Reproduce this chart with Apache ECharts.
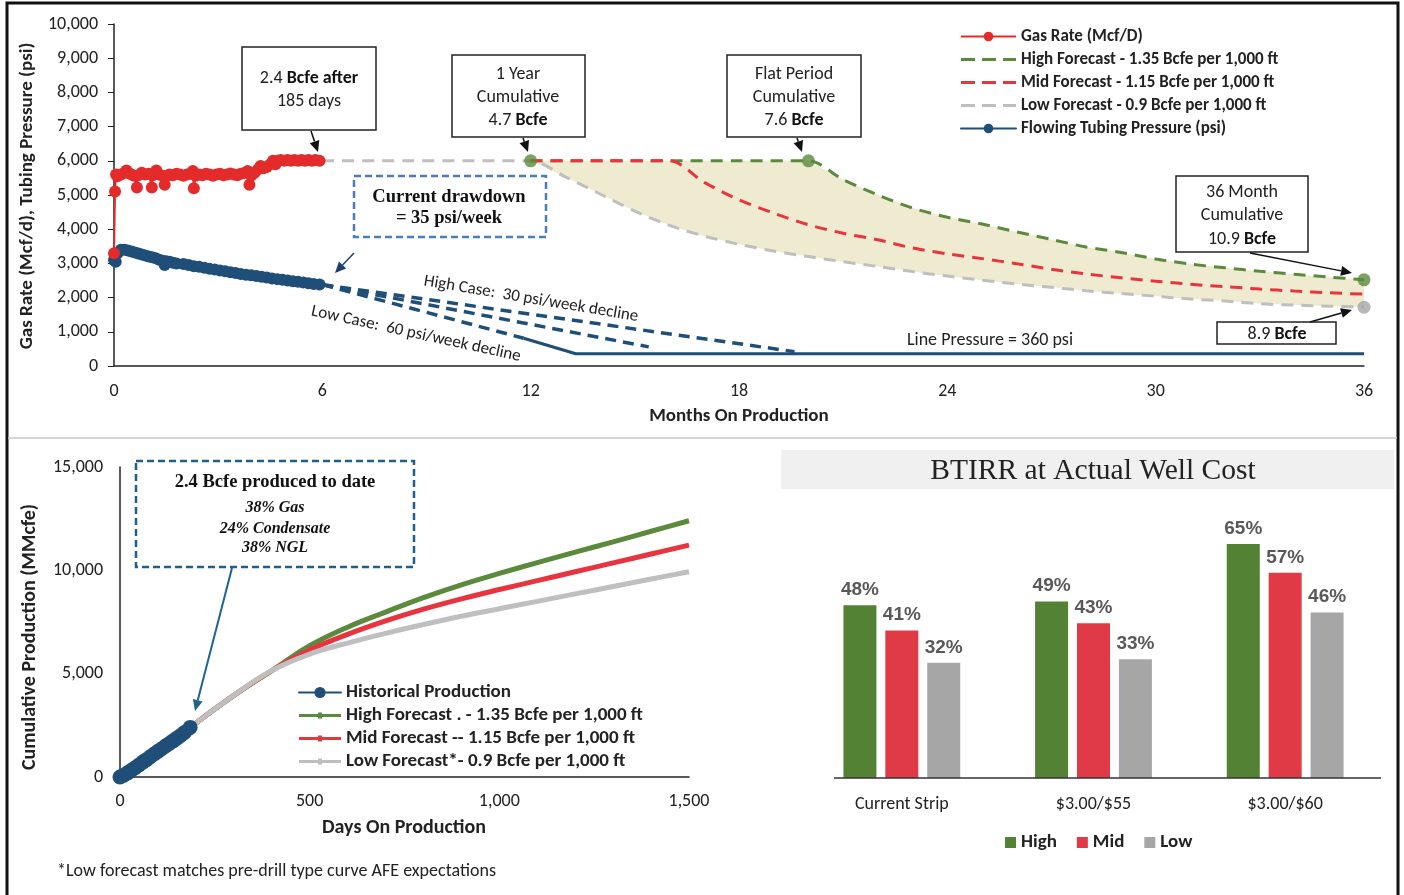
<!DOCTYPE html>
<html>
<head>
<meta charset="utf-8">
<script src="https://cdn.jsdelivr.net/npm/echarts@6.0.0/dist/echarts.min.js"></script>
<style>
  html, body { margin: 0; padding: 0; background: #fff; }
  #main { width: 1404px; height: 895px; }
</style>
</head>
<body>
<div id="main"></div>
<script>
// ---- top panel: gas rate / tubing pressure vs months ----
const gasRate = [
  [0, 3300], [0.03, 5100], [0.06, 5600], [0.1, 5550], [0.2, 5600], [0.3, 5650], [0.36, 5720], [0.42, 5640],
  [0.5, 5600], [0.58, 5560], [0.66, 5220], [0.7, 5580], [0.8, 5650], [0.9, 5600], [1.0, 5620], [1.09, 5220],
  [1.12, 5580], [1.22, 5720], [1.3, 5600], [1.4, 5560], [1.46, 5300], [1.52, 5560], [1.6, 5600], [1.7, 5580],
  [1.8, 5620], [1.9, 5600], [2.0, 5560], [2.1, 5600], [2.2, 5620], [2.27, 5700], [2.3, 5200], [2.35, 5560],
  [2.45, 5600], [2.55, 5580], [2.65, 5620], [2.75, 5600], [2.85, 5560], [2.95, 5600], [3.05, 5620], [3.15, 5580],
  [3.25, 5600], [3.35, 5630], [3.45, 5600], [3.55, 5580], [3.65, 5620], [3.75, 5640], [3.85, 5700], [3.9, 5300],
  [3.95, 5560], [4.05, 5650], [4.15, 5750], [4.22, 5850], [4.3, 5780], [4.4, 5820], [4.5, 5900], [4.58, 6000],
  [4.65, 5900], [4.72, 6000], [4.8, 6020], [4.9, 6000], [5.0, 6020], [5.1, 6000], [5.2, 6020], [5.3, 6000],
  [5.4, 6020], [5.5, 6000], [5.6, 6020], [5.7, 6000], [5.8, 6020], [5.92, 6000]
];

const tubingPressure = [
  [0, 3100], [0.05, 3050], [0.1, 3300], [0.2, 3400], [0.3, 3400], [0.4, 3380], [0.5, 3350], [0.6, 3320],
  [0.7, 3290], [0.8, 3260], [0.9, 3230], [1.0, 3200], [1.1, 3180], [1.2, 3150], [1.3, 3110], [1.4, 3080],
  [1.46, 2950], [1.5, 3060], [1.6, 3050], [1.7, 3020], [1.8, 3000], [2.0, 2980], [2.15, 2950], [2.3, 2920],
  [2.45, 2900], [2.6, 2870], [2.75, 2840], [2.9, 2820], [3.05, 2790], [3.2, 2770], [3.35, 2740], [3.5, 2720],
  [3.65, 2690], [3.8, 2670], [3.95, 2650], [4.1, 2630], [4.25, 2610], [4.4, 2590], [4.55, 2560], [4.7, 2540],
  [4.85, 2520], [5.0, 2500], [5.15, 2480], [5.3, 2460], [5.45, 2440], [5.6, 2420], [5.75, 2400], [5.92, 2380]
];

const highForecast = [
  [12, 6000], [14, 6000], [16, 6000], [18, 6000], [20, 6000], [21, 5450], [22, 5000], [23, 4620],
  [24, 4350], [25, 4150], [26, 3920], [27, 3700], [28, 3480], [29, 3320], [30, 3130], [31, 2980],
  [32, 2870], [33, 2770], [34, 2680], [35, 2600], [36, 2520]
];
const midForecast = [
  [12, 6000], [14, 6000], [16, 6000], [17, 5370], [18, 4860], [19, 4470], [20, 4130], [21, 3880],
  [22, 3690], [23, 3450], [24, 3280], [25, 3140], [26, 2990], [27, 2830], [28, 2690], [29, 2580],
  [30, 2480], [31, 2390], [32, 2320], [33, 2250], [34, 2190], [35, 2140], [36, 2100]
];
const lowForecast = [
  [6, 6000], [12, 6000], [13, 5530], [14, 5030], [15, 4530], [16, 4110], [17, 3800], [18, 3560],
  [19, 3360], [20, 3200], [21, 3050], [22, 2910], [23, 2760], [24, 2630], [25, 2510], [26, 2400],
  [27, 2300], [28, 2200], [29, 2120], [30, 2040], [31, 1960], [32, 1900], [33, 1820], [34, 1780],
  [35, 1750], [36, 1720]
];
const greenMarkers = [[12, 6000], [20, 6000], [36, 2520]];
const grayMarkers = [[36, 1720]];

const ftpHighCase = [[6, 2380], [19.6, 420]];
const ftpMidCase = [[6, 2380], [15.4, 560]];
const ftpLowCase = [[6, 2380], [11.8, 810]];
const linePressure = [[11.8, 810], [13.3, 360], [36, 360]];

// ---- bottom left: cumulative production vs days ----
const historical = [
  [0, 0], [10, 90], [20, 200], [30, 330], [40, 450], [50, 580], [60, 720], [70, 840], [80, 980],
  [90, 1110], [100, 1240], [110, 1370], [120, 1500], [130, 1620], [140, 1750], [150, 1880],
  [160, 2010], [170, 2150], [185, 2400]
];
const forecastDays = [185, 300, 400, 500, 600, 700, 800, 900, 1000, 1100, 1200, 1300, 1400, 1500];
const cumHigh = [2400, 3950, 5150, 6350, 7250, 7980, 8680, 9300, 9850, 10370, 10880, 11380, 11890, 12400];
const cumMid = [2400, 3950, 5150, 6150, 6900, 7550, 8120, 8620, 9070, 9500, 9930, 10360, 10790, 11220];
const cumLow = [2400, 3950, 5150, 5950, 6480, 6950, 7380, 7780, 8140, 8500, 8860, 9220, 9580, 9930];

// ---- bottom right: BTIRR bars ----
const priceDecks = ['Current Strip', '$3.00/$55', '$3.00/$60'];
const irrHigh = [48, 49, 65];
const irrMid = [41, 43, 57];
const irrLow = [32, 33, 46];

const GREEN = '#5B8A3C', RED = '#E8343E', GRAY = '#BFBFBF', NAVY = '#1F4E79';
const FONT = 'Carlito, Lato, "Open Sans", sans-serif';
const SERIF = '"Liberation Serif", "DejaVu Serif", serif';
const DASH_ICON = 'path://M0,0M0,12M0,4.5h14v3h-14zM21,4.5h14v3h-14zM42,4.5h13v3h-13z';
const DOT_ICON = 'path://M0,0M0,14M0,5.5h42v3h-42zM19,4h4v6h-4z';

const pairs = (xs, ys) => xs.map((x, i) => [x, ys[i]]);
const fmt = v => v.toLocaleString('en-US');

function arrow(x1, y1, x2, y2, color, w) {
  const a = Math.atan2(y2 - y1, x2 - x1), L = 11, W = 5;
  const bx = x2 - L * Math.cos(a), by = y2 - L * Math.sin(a);
  return [
    { type: 'line', z: 100, shape: { x1, y1, x2: bx, y2: by }, style: { stroke: color, lineWidth: w } },
    { type: 'polygon', z: 100, shape: { points: [[x2, y2], [bx + W * Math.sin(a), by - W * Math.cos(a)], [bx - W * Math.sin(a), by + W * Math.cos(a)]] }, style: { fill: color } }
  ];
}
function rect(x, y, w, h, stroke, dash) {
  return { type: 'rect', z: 99, shape: { x, y, width: w, height: h },
    style: { fill: '#fff', stroke, lineWidth: dash ? 2.5 : 1.5, lineDash: dash || null } };
}
const rich = {
  r: { fontFamily: FONT, fontSize: 18, fill: '#222' },
  b: { fontFamily: FONT, fontSize: 18, fontWeight: 'bold', fill: '#111' }
};
function label(x, y, text) {
  return { type: 'text', z: 101, x, y,
    style: { text, rich, fontFamily: FONT, fontSize: 18, fill: '#222', align: 'center', verticalAlign: 'middle' } };
}
function plain(x, y, text, style, extra) {
  return Object.assign({ type: 'text', z: 101, x, y,
    style: Object.assign({ text, fontFamily: FONT, fontSize: 18, fill: '#222', align: 'center', verticalAlign: 'middle' }, style) }, extra || {});
}
const serifBold = { fontFamily: SERIF, fontWeight: 'bold', fontSize: 18.5, fill: '#111' };
const serifItalic = { fontFamily: SERIF, fontWeight: 'bold', fontStyle: 'italic', fontSize: 16, fill: '#111' };

const graphics = [
  // frame and separator
  { type: 'rect', z: 0, shape: { x: 7, y: 3, width: 1391, height: 910 }, style: { fill: 'none', stroke: '#111', lineWidth: 3 } },
  { type: 'line', z: 0, shape: { x1: 8, y1: 438, x2: 1397, y2: 438 }, style: { stroke: '#C8C8C8', lineWidth: 1.5 } },
  // top axis names
  plain(739, 416, 'Months On Production', { fontWeight: 'bold', fontSize: 19 }),
  plain(27, 196, 'Gas Rate (Mcf/d), Tubing Pressure (psi)', { fontWeight: 'bold', fontSize: 19 }, { rotation: Math.PI / 2 }),
  // boxes
  rect(242, 47, 134, 83, '#222'),
  label(309, 78, '{r|2.4} {b|Bcfe after}'),
  label(309, 101, '{r|185 days}'),
  ...arrow(311, 131, 318, 152, '#111', 1.5),
  rect(452, 55, 133, 82, '#222'),
  label(518, 74, '{r|1 Year}'),
  label(518, 97, '{r|Cumulative}'),
  label(518, 120, '{r|4.7} {b|Bcfe}'),
  ...arrow(523, 138, 528, 152, '#111', 1.5),
  rect(727, 55, 134, 82, '#222'),
  label(794, 74, '{r|Flat Period}'),
  label(794, 97, '{r|Cumulative}'),
  label(794, 120, '{r|7.6} {b|Bcfe}'),
  ...arrow(797, 138, 802, 152, '#111', 1.5),
  rect(354, 176, 192, 61, '#4A7EBB', [7, 4]),
  plain(449, 197, 'Current drawdown', serifBold),
  plain(449, 218, '= 35 psi/week', serifBold),
  ...arrow(354, 253, 335, 273, '#1F3F6F', 1.5),
  rect(1176, 176, 132, 76, '#222'),
  label(1242, 192, '{r|36 Month}'),
  label(1242, 215, '{r|Cumulative}'),
  label(1242, 239, '{r|10.9} {b|Bcfe}'),
  ...arrow(1250, 253, 1352, 273, '#111', 1.5),
  rect(1217, 322, 119, 22, '#222'),
  label(1277, 334, '{r|8.9} {b|Bcfe}'),
  ...arrow(1310, 322, 1352, 310, '#111', 1.5),
  plain(990, 340, 'Line Pressure = 360 psi', {}),
  plain(531, 299, 'High Case:  30 psi/week decline', { fontSize: 17 }, { rotation: -0.165 }),
  plain(416, 334, 'Low Case:  60 psi/week decline', { fontSize: 17 }, { rotation: -0.215 }),
  // bottom-left
  plain(404, 828, 'Days On Production', { fontWeight: 'bold', fontSize: 20 }),
  plain(30, 637, 'Cumulative Production (MMcfe)', { fontWeight: 'bold', fontSize: 20 }, { rotation: Math.PI / 2 }),
  rect(136, 461, 278, 106, '#1F5F8B', [7, 4]),
  plain(275, 482, '2.4 Bcfe produced to date', serifBold),
  plain(275, 508, '38% Gas', serifItalic),
  plain(275, 529, '24% Condensate', serifItalic),
  plain(275, 548, '38% NGL', serifItalic),
  ...arrow(232, 568, 195, 711, '#1F6391', 2),
  plain(57, 871, '*Low forecast matches pre-drill type curve AFE expectations', { fontSize: 18, align: 'left' }),
  // bottom-right title
  { type: 'rect', z: 0, shape: { x: 781, y: 450, width: 613, height: 39 }, style: { fill: '#F0F0F0' } },
  plain(1093, 471, 'BTIRR at Actual Well Cost', { fontFamily: SERIF, fontSize: 29.5, fill: '#222' }),
  { type: 'line', z: 5, shape: { x1: 834, y1: 778, x2: 1381, y2: 778 }, style: { stroke: '#333', lineWidth: 1.5 } }
];

const axisLabel = { fontFamily: FONT, fontSize: 18, color: '#222' };
const blackLine = { show: true, lineStyle: { color: '#222', width: 1.5 } };
const barLabel = { show: true, position: 'top', distance: 6, formatter: '{c}%', fontFamily: '"Liberation Sans", Arial, sans-serif',
  fontSize: 19, fontWeight: 'bold', color: '#595959' };

const option = {
  backgroundColor: '#fff',
  animation: false,
  grid: [
    { left: 114, top: 24, width: 1250, height: 342 },
    { left: 120, top: 467, width: 569, height: 310 },
    { left: 806, top: 490, width: 575, height: 288 }
  ],
  xAxis: [
    { type: 'value', gridIndex: 0, min: 0, max: 36, interval: 6, axisLine: blackLine, axisTick: { show: false },
      splitLine: { show: false }, axisLabel: Object.assign({ margin: 16 }, axisLabel) },
    { type: 'value', gridIndex: 1, min: 0, max: 1500, interval: 500, axisLine: blackLine, axisTick: { show: false },
      splitLine: { show: false }, axisLabel: Object.assign({ margin: 15, formatter: fmt }, axisLabel) },
    { type: 'category', gridIndex: 2, data: priceDecks, axisLine: { show: false }, axisTick: { show: false },
      axisLabel: Object.assign({ margin: 17 }, axisLabel) }
  ],
  yAxis: [
    { type: 'value', gridIndex: 0, min: 0, max: 10000, interval: 1000, axisLine: blackLine,
      axisTick: { show: true, length: 6, lineStyle: { color: '#222' } }, splitLine: { show: false },
      axisLabel: Object.assign({ margin: 16, formatter: fmt }, axisLabel) },
    { type: 'value', gridIndex: 1, min: 0, max: 15000, interval: 5000, axisLine: blackLine, axisTick: { show: false },
      splitLine: { show: false }, axisLabel: Object.assign({ margin: 17, formatter: fmt }, axisLabel) },
    { type: 'value', gridIndex: 2, min: 0, max: 80, show: false, splitLine: { show: false } }
  ],
  legend: [
    { orient: 'vertical', left: 955, top: 23, itemWidth: 55, itemHeight: 12, itemGap: 6,
      textStyle: { fontFamily: FONT, fontSize: 17, fontWeight: 'bold', color: '#222' },
      data: [
        'Gas Rate (Mcf/D)',
        { name: 'High Forecast - 1.35 Bcfe per 1,000 ft', icon: DASH_ICON },
        { name: 'Mid Forecast - 1.15 Bcfe per 1,000 ft', icon: DASH_ICON },
        { name: 'Low Forecast - 0.9 Bcfe per 1,000 ft', icon: DASH_ICON },
        'Flowing Tubing Pressure (psi)'
      ] },
    { orient: 'vertical', left: 293, top: 678, itemWidth: 42, itemHeight: 14, itemGap: 4,
      textStyle: { fontFamily: FONT, fontSize: 19, fontWeight: 'bold', color: '#222' },
      data: [
        'Historical Production',
        { name: 'High Forecast . - 1.35 Bcfe per 1,000 ft', icon: DOT_ICON },
        { name: 'Mid Forecast -- 1.15 Bcfe per 1,000 ft', icon: DOT_ICON },
        { name: 'Low Forecast*- 0.9 Bcfe per 1,000 ft', icon: DOT_ICON }
      ] },
    { orient: 'horizontal', left: 1000, top: 828, itemWidth: 11, itemHeight: 11, itemGap: 20, icon: 'rect',
      textStyle: { fontFamily: FONT, fontSize: 19, fontWeight: 'bold', color: '#222' },
      data: ['High', 'Mid', 'Low'] }
  ],
  graphic: graphics,
  series: [
    // band between high and low forecasts
    { type: 'custom', xAxisIndex: 0, yAxisIndex: 0, silent: true, z: 1, data: [[12, 6000]],
      renderItem: (params, api) => {
        const top = highForecast.map(p => api.coord(p));
        const bottom = lowForecast.filter(p => p[0] >= 12).slice().reverse().map(p => api.coord(p));
        return { type: 'polygon', shape: { points: top.concat(bottom) }, style: { fill: '#EEEBD0' } };
      } },
    { name: 'Low Forecast - 0.9 Bcfe per 1,000 ft', type: 'line', xAxisIndex: 0, yAxisIndex: 0, z: 2, data: lowForecast,
      smooth: 0.3, symbol: 'none', itemStyle: { color: GRAY }, lineStyle: { color: GRAY, width: 3, type: [12, 8] } },
    { name: 'High Forecast - 1.35 Bcfe per 1,000 ft', type: 'line', xAxisIndex: 0, yAxisIndex: 0, z: 3, data: highForecast,
      smooth: 0.3, symbol: 'none', itemStyle: { color: GREEN }, lineStyle: { color: GREEN, width: 3, type: [12, 8] } },
    { name: 'Mid Forecast - 1.15 Bcfe per 1,000 ft', type: 'line', xAxisIndex: 0, yAxisIndex: 0, z: 4, data: midForecast,
      smooth: 0.3, symbol: 'none', itemStyle: { color: RED }, lineStyle: { color: RED, width: 3, type: [12, 8] } },
    { type: 'line', xAxisIndex: 0, yAxisIndex: 0, z: 3, data: ftpHighCase, symbol: 'none',
      lineStyle: { color: NAVY, width: 3.5, type: [11, 7] } },
    { type: 'line', xAxisIndex: 0, yAxisIndex: 0, z: 3, data: ftpMidCase, symbol: 'none',
      lineStyle: { color: NAVY, width: 3.5, type: [11, 7] } },
    { type: 'line', xAxisIndex: 0, yAxisIndex: 0, z: 3, data: ftpLowCase, symbol: 'none',
      lineStyle: { color: NAVY, width: 3.5, type: [11, 7] } },
    { type: 'line', xAxisIndex: 0, yAxisIndex: 0, z: 3, data: linePressure, symbol: 'none',
      lineStyle: { color: NAVY, width: 3 } },
    { name: 'Flowing Tubing Pressure (psi)', type: 'line', xAxisIndex: 0, yAxisIndex: 0, z: 5, data: tubingPressure,
      symbol: 'circle', symbolSize: 12, itemStyle: { color: NAVY }, lineStyle: { color: NAVY, width: 9, cap: 'round' } },
    { name: 'Gas Rate (Mcf/D)', type: 'line', xAxisIndex: 0, yAxisIndex: 0, z: 5, data: gasRate,
      symbol: 'circle', symbolSize: 12, itemStyle: { color: '#E42B2B' }, lineStyle: { color: '#E42B2B', width: 2 } },
    { type: 'scatter', xAxisIndex: 0, yAxisIndex: 0, z: 6, data: greenMarkers, symbolSize: 13, itemStyle: { color: GREEN } },
    { type: 'scatter', xAxisIndex: 0, yAxisIndex: 0, z: 6, data: grayMarkers, symbolSize: 13, itemStyle: { color: '#A6A6A6' } },

    // cumulative production
    { name: 'High Forecast . - 1.35 Bcfe per 1,000 ft', type: 'line', xAxisIndex: 1, yAxisIndex: 1, z: 2,
      data: pairs(forecastDays, cumHigh), smooth: 0.4, symbol: 'circle', symbolSize: 5, showSymbol: false,
      itemStyle: { color: GREEN }, lineStyle: { color: GREEN, width: 5 } },
    { name: 'Mid Forecast -- 1.15 Bcfe per 1,000 ft', type: 'line', xAxisIndex: 1, yAxisIndex: 1, z: 3,
      data: pairs(forecastDays, cumMid), smooth: 0.4, symbol: 'circle', symbolSize: 5, showSymbol: false,
      itemStyle: { color: RED }, lineStyle: { color: RED, width: 5 } },
    { name: 'Low Forecast*- 0.9 Bcfe per 1,000 ft', type: 'line', xAxisIndex: 1, yAxisIndex: 1, z: 4,
      data: pairs(forecastDays, cumLow), smooth: 0.4, symbol: 'circle', symbolSize: 5, showSymbol: false,
      itemStyle: { color: GRAY }, lineStyle: { color: GRAY, width: 5 } },
    { name: 'Historical Production', type: 'line', xAxisIndex: 1, yAxisIndex: 1, z: 5, data: historical,
      symbol: 'circle', symbolSize: 15, itemStyle: { color: NAVY }, lineStyle: { color: NAVY, width: 13, cap: 'round' } },

    // BTIRR bars
    { name: 'High', type: 'bar', xAxisIndex: 2, yAxisIndex: 2, data: irrHigh, barWidth: 33, barGap: '27%',
      itemStyle: { color: '#548235' }, label: barLabel },
    { name: 'Mid', type: 'bar', xAxisIndex: 2, yAxisIndex: 2, data: irrMid, barWidth: 33, barGap: '27%',
      itemStyle: { color: '#E03A46' }, label: barLabel },
    { name: 'Low', type: 'bar', xAxisIndex: 2, yAxisIndex: 2, data: irrLow, barWidth: 33, barGap: '27%',
      itemStyle: { color: '#A6A6A6' }, label: barLabel }
  ]
};

const chart = echarts.init(document.getElementById('main'), null, { renderer: 'canvas' });
chart.setOption(option);
</script>
</body>
</html>
